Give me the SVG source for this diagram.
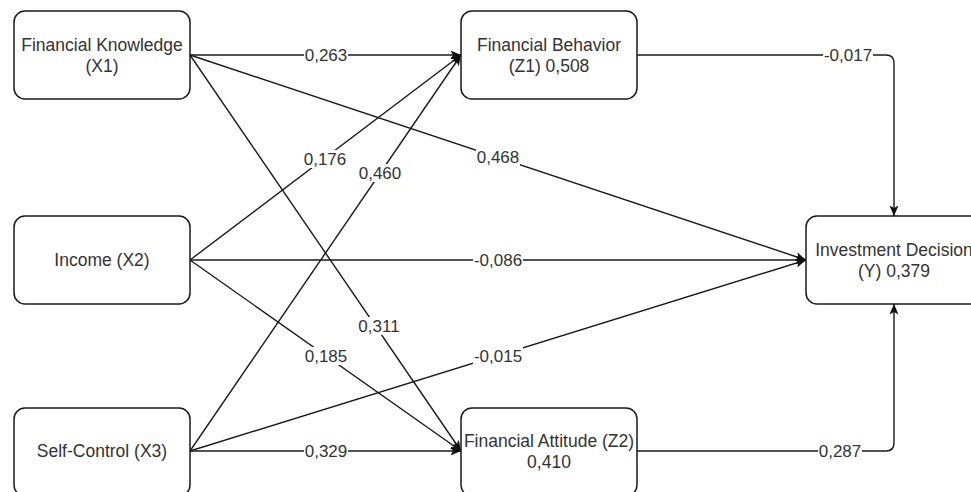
<svg xmlns="http://www.w3.org/2000/svg" width="971" height="492" viewBox="0 0 971 492">
  <style>
    .node rect { fill: #ffffff; stroke: #1a1a1a; stroke-width: 1.5; }
    .node text { font-family: "Liberation Sans", Arial, sans-serif; font-size: 17.5px; fill: #333333; text-anchor: middle; }
    .edge { fill: none; stroke: #1a1a1a; stroke-width: 1.4; marker-end: url(#arrow); }
    .lbl rect { fill: #ffffff; }
    .lbl text { font-family: "Liberation Sans", Arial, sans-serif; font-size: 17px; fill: #333333; text-anchor: middle; }
  </style>
  <defs>
    <!-- classic filled arrowhead with a shallow notch -->
    <marker id="arrow" markerUnits="userSpaceOnUse" markerWidth="12" markerHeight="10" refX="10.5" refY="4.5" orient="auto">
      <path d="M0,0 L10.5,4.5 L0,9 L2.5,4.5 Z" fill="#111111"/>
    </marker>
  </defs>
  <rect width="971" height="492" fill="#ffffff"/>

  <!-- connectors -->
  <g id="connectors">
    <path class="edge" d="M190,55 L461,55"/>
    <path class="edge" d="M190,55 L806,260"/>
    <path class="edge" d="M190,55 L461,451"/>
    <path class="edge" d="M190,260 L461,55"/>
    <path class="edge" d="M190,260 L806,260"/>
    <path class="edge" d="M190,260 L461,451"/>
    <path class="edge" d="M190,451 L461,55"/>
    <path class="edge" d="M190,451 L806,260"/>
    <path class="edge" d="M190,451 L461,451"/>
    <path class="edge" d="M637,55 H886 Q894,55 894,63 V216"/>
    <path class="edge" d="M637,451 H886 Q894,451 894,443 V304"/>

    <g class="lbl">
      <rect x="304" y="46" width="44" height="18"/><text x="326" y="55" dy="0.35em">0,263</text>
      <rect x="476" y="148" width="44" height="18"/><text x="498" y="157" dy="0.35em">0,468</text>
      <rect x="357" y="317" width="44" height="18"/><text x="379" y="326" dy="0.35em">0,311</text>
      <rect x="303" y="150" width="44" height="18"/><text x="325" y="159" dy="0.35em">0,176</text>
      <rect x="358" y="164" width="44" height="18"/><text x="380" y="173" dy="0.35em">0,460</text>
      <rect x="473" y="251" width="50" height="18"/><text x="498" y="260" dy="0.35em">-0,086</text>
      <rect x="304" y="347" width="44" height="18"/><text x="326" y="356" dy="0.35em">0,185</text>
      <rect x="473" y="347" width="50" height="18"/><text x="498" y="356" dy="0.35em">-0,015</text>
      <rect x="304" y="442" width="44" height="18"/><text x="326" y="451" dy="0.35em">0,329</text>
      <rect x="823" y="46" width="50" height="18"/><text x="848" y="55" dy="0.35em">-0,017</text>
      <rect x="818" y="442" width="44" height="18"/><text x="840" y="451" dy="0.35em">0,287</text>
    </g>
  </g>

  <!-- nodes -->
  <g id="x1" class="node">
    <rect x="14" y="11" width="176" height="88" rx="11"/>
    <text x="102" y="50.5">Financial Knowledge</text>
    <text x="102" y="71.5">(X1)</text>
  </g>
  <g id="x2" class="node">
    <rect x="14" y="216" width="176" height="88" rx="11"/>
    <text x="102" y="266">Income (X2)</text>
  </g>
  <g id="x3" class="node">
    <rect x="14" y="408" width="176" height="88" rx="11"/>
    <text x="102" y="457">Self-Control (X3)</text>
  </g>
  <g id="z1" class="node">
    <rect x="461" y="11" width="176" height="88" rx="11"/>
    <text x="549" y="50.5">Financial Behavior</text>
    <text x="549" y="71.5">(Z1) 0,508</text>
  </g>
  <g id="z2" class="node">
    <rect x="461" y="408" width="176" height="88" rx="11"/>
    <text x="549" y="446.5">Financial Attitude (Z2)</text>
    <text x="549" y="467.5">0,410</text>
  </g>
  <g id="y" class="node">
    <rect x="806" y="216" width="176" height="88" rx="11"/>
    <text x="894" y="255.5">Investment Decision</text>
    <text x="894" y="276.5">(Y) 0,379</text>
  </g>
</svg>
